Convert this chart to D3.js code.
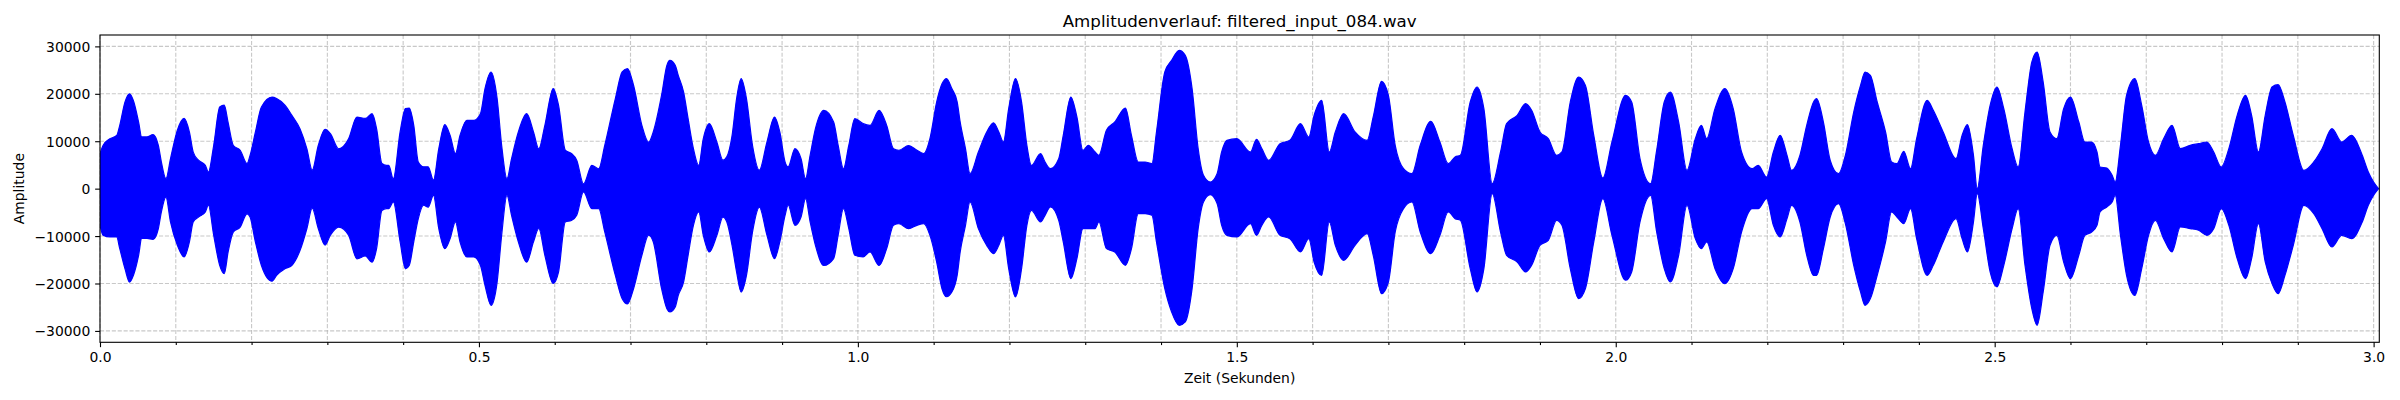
<!DOCTYPE html>
<html>
<head>
<meta charset="utf-8">
<script src="https://cdn.jsdelivr.net/npm/d3@7"></script>
<style>
html,body{margin:0;padding:0;background:#fff;}
svg{display:block;}
text{font-family:"DejaVu Sans",sans-serif;fill:#000;}
</style>
</head>
<body>
<svg id="chart" width="2400" height="400"></svg>
<script>
// ---- data ----
const titleText = "Amplitudenverlauf: filtered_input_084.wav";
const xLabelText = "Zeit (Sekunden)";
const yLabelText = "Amplitude";
const duration = 3.0075;
const yLimits = [-32400, 32400];
const xMajorTicks = [0.0, 0.5, 1.0, 1.5, 2.0, 2.5, 3.0];
const xMinorTicks = [0.1,0.2,0.3,0.4,0.6,0.7,0.8,0.9,1.1,1.2,1.3,1.4,1.6,1.7,1.8,1.9,2.1,2.2,2.3,2.4,2.6,2.7,2.8,2.9];
const yTicks = [-30000, -20000, -10000, 0, 10000, 20000, 30000];

// envelope of the waveform: time (s), upper peak, lower peak
const envTime = [
0.000,0.004,0.013,0.022,0.026,0.033,0.039,0.044,0.051,0.055,0.062,0.070,0.077,0.081,0.087,0.093,0.102,0.111,0.118,0.123,0.130,0.139,0.143,0.150,0.158,0.164,0.169,0.176,0.185,0.194,0.198,0.205,0.213,0.227,0.233,0.244,0.253,0.264,0.273,0.280,0.288,0.297,0.304,0.315,0.328,0.339,0.350,0.359,0.365,0.372,0.378,
0.381,0.387,0.396,0.403,0.408,0.414,0.420,0.427,0.433,0.440,0.447,0.455,0.462,0.469,0.475,0.484,0.493,0.502,0.508,0.516,0.524,0.530,0.537,0.543,0.552,0.563,0.572,0.579,0.587,0.598,0.605,0.614,0.622,0.629,0.638,0.649,0.658,0.666,0.680,0.689,0.696,0.704,0.715,0.724,0.730,0.741,0.748,0.752,
0.759,0.763,0.770,0.776,0.783,0.790,0.796,0.804,0.814,0.822,0.827,0.834,0.840,0.846,0.853,0.861,0.870,0.880,0.890,0.897,0.904,0.908,0.917,0.925,0.931,0.937,0.944,0.955,0.968,0.974,0.981,0.988,0.996,1.007,1.016,1.028,1.038,1.047,1.054,1.067,1.078,1.087,1.095,1.104,1.111,1.117,1.124,1.131,
1.135,1.142,1.148,1.159,1.170,1.179,1.186,1.192,1.199,1.208,1.216,1.223,1.229,1.241,1.247,1.254,1.265,1.271,1.281,1.289,1.297,1.304,1.313,1.318,1.328,1.339,1.353,1.361,1.370,1.379,1.388,1.394,1.405,1.414,1.424,1.432,1.441,1.449,1.456,1.465,1.474,1.480,1.487,1.500,
1.518,1.526,1.533,1.542,1.557,1.570,1.584,1.595,1.602,1.612,1.622,1.630,1.641,1.656,1.672,1.680,1.691,1.700,1.709,1.720,1.731,1.742,1.756,1.768,1.779,1.788,1.795,1.808,1.817,1.826,1.837,1.848,1.856,1.870,1.881,
1.889,1.900,1.911,1.922,1.929,1.940,1.951,1.960,1.971,1.983,1.995,2.013,2.021,2.032,2.046,2.054,2.064,2.072,2.083,2.094,2.105,2.113,2.120,2.131,2.144,2.155,2.166,2.180,2.188,2.199,2.208,2.217,2.226,2.232,2.243,2.252,2.261,
2.265,2.274,2.283,2.294,2.303,2.314,2.323,2.329,2.336,2.345,2.356,2.364,2.371,2.380,2.389,2.397,2.411,2.419,2.432,2.449,2.457,2.464,2.472,2.477,2.485,2.494,2.503,2.512,2.523,2.531,2.540,2.549,2.556,2.564,2.573,2.582,2.591,2.600,2.611,2.619,2.628,2.635,
2.639,2.648,2.655,2.659,2.666,2.674,2.685,2.694,2.703,2.712,2.723,2.734,2.745,2.758,2.769,2.780,2.789,2.799,2.809,2.820,2.831,2.839,2.848,2.857,2.866,2.874,2.883,2.894,2.908,2.921,2.932,2.945,2.958,2.971,2.985,2.993,3.000,3.0065
];
const envUpper = [
7400,9100,10500,11200,13300,18300,20000,18600,14000,10900,10900,11400,9100,5600,2100,6300,12300,14800,11900,7700,6000,4900,3500,9100,17200,17600,14000,9100,8100,5300,7000,11900,17200,19300,19000,17600,15500,12600,8400,3900,9100,12500,11600,8400,10500,15100,14800,15800,12600,5300,4900,
4900,2100,11950,16900,17000,13350,5600,4600,4600,1800,8400,13500,11200,7400,11200,14400,14400,15800,21100,24600,19000,9100,2100,6300,11950,15800,11950,8400,13350,21100,17600,8100,7400,6000,1000,4900,4200,9100,19000,24600,25300,21800,13350,9800,11950,19700,26000,27050,
26000,23900,20400,14760,8430,4900,10500,13700,9800,6000,6700,11200,19000,23200,19000,9100,3900,9800,15100,11950,5600,4600,8430,6300,2100,7000,12650,16500,14050,9100,4200,9100,14760,13700,13350,16500,13350,8430,8100,9100,8100,7400,10500,18300,22100,23200,21100,18300,
14050,8430,3160,7730,11950,13900,11950,9840,16870,23200,18270,9140,4920,7380,5620,4220,6320,11240,19320,15110,8080,9140,7730,7030,12300,14050,17000,11240,5620,5620,5270,11950,24600,27050,29160,28110,21080,8430,2810,1400,3160,7730,10190,10540,
7730,10400,8430,5970,9490,10190,13700,10890,15460,18620,7730,11950,15810,11950,10190,15110,22630,19680,9140,4220,3160,9140,14190,9840,5270,6680,7030,18270,21430,16870,1050,7730,13700,15460,17920,
16520,11950,10540,7030,7730,18270,23540,21780,11240,2250,9840,19680,18270,6320,1050,8080,18270,20380,14050,3860,10540,13350,10540,16870,21080,16870,7730,4220,4920,2460,7730,11240,7030,3860,7030,13350,18270,
18970,14050,5970,3160,7030,16160,21780,24600,23890,18270,11950,5620,5270,7870,4220,10540,18620,16520,11950,6320,11240,13490,7030,0,9140,17570,21430,16870,8430,4570,16160,26700,28810,22490,11950,10540,16870,19320,14050,9840,9840,7730,
4570,4360,2810,1400,9140,19680,23190,17570,9840,7030,10540,13350,8430,9140,9490,9840,7730,4570,8430,15460,19680,15460,7730,15460,21430,21920,18270,11240,3860,5620,8430,12650,9840,11240,7030,3510,1400,0
];
const envLower = [
-7700,-9800,-10200,-10200,-12600,-16900,-19700,-18300,-14000,-10500,-10500,-10700,-8400,-4900,-1800,-7000,-11900,-14400,-11200,-7000,-6000,-4900,-3500,-9800,-16200,-17900,-13400,-9100,-8100,-5300,-6000,-11200,-16200,-19500,-18300,-16900,-16200,-13000,-8400,-4100,-8400,-11900,-9800,-8100,-9800,-14800,-14200,-15500,-12600,-4600,-4200,
-4200,-2800,-11200,-16900,-16200,-11200,-6300,-3500,-3900,-1400,-8400,-12650,-10500,-7000,-11200,-14400,-14400,-16200,-20400,-24600,-19700,-9800,-1400,-5600,-11200,-15500,-11200,-8400,-14050,-20000,-17600,-7000,-6700,-5600,-700,-4200,-4200,-9100,-18300,-23200,-24300,-21100,-14050,-9800,-11200,-21100,-25300,-26000,
-24950,-22500,-19700,-14050,-7730,-4900,-9800,-13350,-9800,-6000,-7000,-11950,-17600,-21800,-18300,-9100,-3900,-9800,-14760,-11200,-5600,-3500,-7730,-5970,-2100,-7000,-11950,-16200,-14760,-9800,-4200,-8400,-14050,-14400,-13350,-16200,-12650,-7730,-7400,-8430,-7730,-7400,-9800,-15500,-21100,-22800,-21800,-18300,
-13350,-7730,-2810,-8430,-11950,-13700,-11950,-9840,-16870,-22840,-16870,-7730,-4570,-7030,-5620,-3860,-6680,-11240,-18970,-14760,-8430,-8430,-8430,-7030,-12650,-13350,-16160,-12650,-5270,-5270,-5620,-11240,-21080,-26000,-28810,-28100,-21080,-8430,-2810,-1260,-3160,-7730,-9840,-10190,
-7380,-9840,-7730,-5970,-9840,-10540,-13350,-10540,-15460,-18270,-7030,-11950,-15110,-11950,-9490,-14050,-22140,-19680,-9140,-4220,-2810,-9140,-13700,-9840,-4920,-6320,-6680,-16870,-21780,-16870,-1050,-9140,-14050,-15460,-17570,
-16160,-11950,-10890,-6680,-7730,-16870,-23190,-21080,-11240,-2110,-9840,-19320,-17570,-7030,-1400,-9140,-16870,-19680,-14050,-3510,-10540,-12650,-11240,-16870,-20030,-16870,-9140,-4220,-4220,-2110,-7730,-10190,-6320,-3510,-7030,-14050,-18270,
-18270,-12650,-5970,-3160,-7380,-16160,-21780,-24600,-23190,-18270,-11240,-4920,-5970,-7380,-4220,-10540,-18270,-16160,-11240,-6320,-10540,-13350,-7030,-1050,-8430,-17570,-20730,-16160,-8430,-4220,-16160,-25300,-28810,-21780,-11950,-9840,-15460,-18970,-14050,-9840,-9140,-7730,
-4920,-3860,-2810,-1400,-9840,-18270,-22490,-16870,-9840,-6680,-10540,-13350,-8080,-8430,-8780,-9840,-8430,-4220,-7730,-14760,-18970,-14760,-7380,-15460,-20030,-22140,-18270,-11950,-3510,-5270,-8430,-12300,-9840,-10540,-7030,-3510,-1400,0
];

// ---- layout ----
const margin = {left:100, top:35, right:2400-2379.3, bottom:400-342.3};
const W = 2400, H = 400;
const svg = d3.select("#chart");
const x = d3.scaleLinear().domain([0, duration]).range([margin.left, W - margin.right]);
const y = d3.scaleLinear().domain(yLimits).range([H - margin.bottom, margin.top]);

const px0 = x.range()[0], px1 = x.range()[1];
const py0 = y.range()[1], py1 = y.range()[0];

// grid
const grid = svg.append("g").attr("stroke", "#b0b0b0").attr("stroke-opacity", 0.7)
  .attr("stroke-width", 1.1).attr("stroke-dasharray", "4.1,1.8");
grid.selectAll("line.gx").data(xMajorTicks.concat(xMinorTicks)).join("line")
  .attr("x1", d => x(d)).attr("x2", d => x(d)).attr("y1", py0).attr("y2", py1);
grid.selectAll("line.gy").data(yTicks).join("line")
  .attr("x1", px0).attr("x2", px1).attr("y1", d => y(d)).attr("y2", d => y(d));

// waveform envelope
svg.append("clipPath").attr("id", "clip").append("rect")
  .attr("x", px0).attr("y", py0).attr("width", px1 - px0).attr("height", py1 - py0);
const env = envTime.map((t, i) => ({t, hi: envUpper[i], lo: envLower[i]}));
const area = d3.area().x(d => x(d.t)).y0(d => y(d.lo)).y1(d => y(d.hi)).curve(d3.curveMonotoneX);
svg.append("path").datum(env).attr("clip-path", "url(#clip)")
  .attr("d", area).attr("fill", "#0000ff").attr("stroke", "#0000ff").attr("stroke-width", 1.2)
  .attr("stroke-linejoin", "round");

// axes
const xAxis = d3.axisBottom(x).tickValues(xMajorTicks).tickFormat(d3.format(".1f"))
  .tickSize(4.86).tickPadding(4.86);
const gx = svg.append("g").attr("transform", `translate(0,${py1})`).call(xAxis);
const xMinor = d3.axisBottom(x).tickValues(xMinorTicks).tickFormat("").tickSize(2.78);
const gxm = svg.append("g").attr("transform", `translate(0,${py1})`).call(xMinor);
const yAxis = d3.axisLeft(y).tickValues(yTicks).tickFormat(d3.format("d"))
  .tickSize(4.86).tickPadding(4.86);
const gy = svg.append("g").attr("transform", `translate(${px0},0)`).call(yAxis);

[gx, gxm, gy].forEach(g => {
  g.select(".domain").remove();
  g.selectAll(".tick line").attr("stroke", "#000").attr("stroke-width", 1.1);
  g.selectAll(".tick text").attr("font-family", "DejaVu Sans").attr("font-size", 13.9).attr("fill", "#000");
});
gx.selectAll(".tick text").attr("dy", null).attr("y", 19.6);
gy.selectAll(".tick text").attr("dy", "0.36em");

// frame
svg.append("rect").attr("x", px0).attr("y", py0).attr("width", px1 - px0).attr("height", py1 - py0)
  .attr("fill", "none").attr("stroke", "#000").attr("stroke-width", 1.1);

// texts
svg.append("text").attr("x", (px0 + px1) / 2).attr("y", 26.7).attr("text-anchor", "middle")
  .attr("font-size", 16.67).text(titleText);
svg.append("text").attr("x", (px0 + px1) / 2).attr("y", 383).attr("text-anchor", "middle")
  .attr("font-size", 13.9).text(xLabelText);
svg.append("text").attr("transform", `translate(24,${(py0 + py1) / 2}) rotate(-90)`)
  .attr("text-anchor", "middle").attr("font-size", 13.9).text(yLabelText);
</script>
</body>
</html>
